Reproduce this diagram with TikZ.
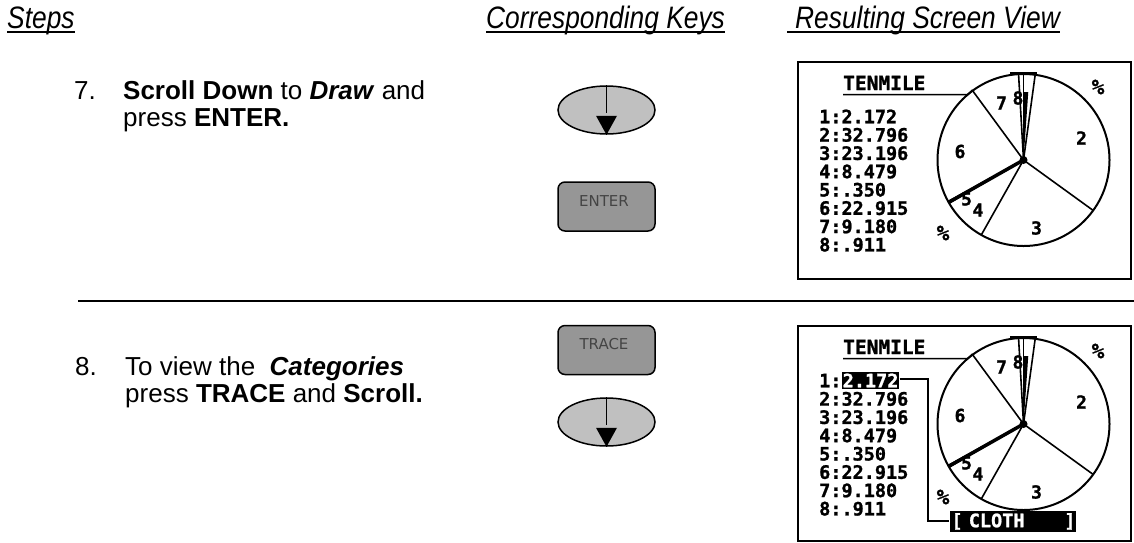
\documentclass[tikz,border=0pt]{standalone}
\usepackage{fontspec}
\setmainfont{Liberation Sans}
\newfontfamily\hdrfont[FakeStretch=0.85]{Liberation Sans}
\newfontfamily\keyfont{DejaVu Sans}
\newfontfamily\lcdfont[FakeBold=1.2]{DejaVu Sans Mono}
\usetikzlibrary{shapes.geometric}
\definecolor{keygray}{HTML}{969696}
\definecolor{ovalgray}{HTML}{C0C0C0}
\definecolor{keytext}{HTML}{444444}
\tikzset{
  hdr/.style={anchor=base west,inner sep=0pt,font=\hdrfont\itshape\fontsize{31}{31}\selectfont},
  steptext/.style={anchor=base west,inner sep=0pt,font=\fontsize{26}{26}\selectfont},
  ovalkey/.style={ellipse,draw=black,line width=1.5pt,fill=ovalgray,minimum width=97pt,minimum height=48pt,inner sep=0pt},
  rectkey/.style={draw=black,line width=1.5pt,fill=keygray,rounded corners=7pt,minimum width=97pt,minimum height=49pt,inner sep=0pt},
  keylabel/.style={inner sep=0pt,text=keytext,font=\keyfont\fontsize{15}{15}\selectfont},
  screen/.style={draw=black,line width=2pt},
  lcd/.style={anchor=base west,inner sep=0pt,font=\lcdfont\bfseries\fontsize{18.5}{18.5}\selectfont},
  lcdlbl/.style={inner sep=0pt,font=\lcdfont\bfseries\fontsize{18}{18}\selectfont},
  pie/.style={line width=2pt},
}
\begin{document}
\begin{tikzpicture}[x=1pt,y=-1pt]
\useasboundingbox (0,0) rectangle (1134,542);
% headers
\node[hdr] (h1) at (7,28) {Steps};
\node[hdr] (h2) at (486,28) {Corresponding Keys};
\node[hdr] (h3) at (795,28) {Resulting Screen View};
\foreach \h in {h1,h2,h3}{\draw[line width=1.5pt] ([yshift=-4pt]\h.base west) -- ([yshift=-4pt]\h.base east);}
\coordinate (ul3) at (787,32);
\draw[line width=1.5pt] (ul3) -- (h3.base west|-ul3);
% step 7
\node[steptext] (n7) at (74,99.5) {7.};
\node[steptext] (s7a) at (123,99.5) {\textbf{Scroll Down} to \textbf{\textit{Draw}} and};
\node[steptext] (s7b) at (123,126.5) {press \textbf{ENTER.}};
% separator
\coordinate (sepL) at (78,301);
\coordinate (sepR) at (1134,301);
\draw[line width=2pt] (sepL) -- (sepR);
% step 8
\node[steptext] (n8) at (75,375) {8.};
\node[steptext] (s8a) at (125,375) {To view the \ \textbf{\textit{Categories}}};
\node[steptext] (s8b) at (125,402) {press \textbf{TRACE} and \textbf{Scroll.}};
% keys
\node[ovalkey] (down1) at (606.5,110) {};
\draw[line width=1.5pt] (down1.north) -- ++(0,28);
\fill (down1.south) -- ++(-10.5,-19) -- ++(21,0) -- cycle;
\node[rectkey] (enter) at (606.5,206.5) {};
\node[keylabel] at (604,201) {ENTER};
\node[rectkey] (trace) at (606.5,350) {};
\node[keylabel] at (604,344.5) {TRACE};
\node[ovalkey] (down2) at (606.5,422) {};
\draw[line width=1.5pt] (down2.north) -- ++(0,28);
\fill (down2.south) -- ++(-10.5,-19) -- ++(21,0) -- cycle;
% screens (common content)
\foreach \dy/\nm in {0/A,264/B}{
\begin{scope}[yshift=-\dy pt]
  \coordinate (pc\nm) at (1023.5,160);
  \node[lcd,font=\lcdfont\bfseries\fontsize{19.5}{19.5}\selectfont] (title\nm) at (843,90) {TENMILE};
  \draw[line width=1.5pt] (843,94.5) -- (968,94.5) -- (972.5,90);
  \foreach \t [count=\i from 2] in {2:32.796,3:23.196,4:8.479,5:.350,6:22.915,7:9.180,8:.911}{
    \node[lcd] at (819,{123.3+18.3*(\i-1)}) {\t};
  }
  \draw[pie] (pc\nm) circle[radius=86];
  \foreach \a in {82.2,90,93.3,126.3,-35.9,-119.4,-149.9,-151.2}{
    \draw[line width=1.6pt] (pc\nm) -- ++(-\a:86) ;
  }
  \fill (pc\nm) -- ++(-86:68) -- ++(-5,0) -- cycle;
  \draw[line width=3.5pt] (pc\nm) -- ++(150.5:86);
  \fill (pc\nm) circle[radius=4];
  \draw[line width=3pt] (1010,73.5) -- (1037,73.5);
  \node[lcdlbl] at (1001.5,103) {7};
  \node[lcdlbl] at (1018,98) {8};
  \node[lcdlbl] at (1081.5,138) {2};
  \node[lcdlbl] at (960,151.5) {6};
  \node[lcdlbl] at (978,210) {4};
  \node[lcdlbl] at (966.5,199) {5};
  \node[lcdlbl] at (1036.5,228) {3};
  \node[lcdlbl,font=\lcdfont\bfseries\fontsize{21}{21}\selectfont] at (1098,87) {\%};
  \node[lcdlbl,font=\lcdfont\bfseries\fontsize{21}{21}\selectfont] at (943,233) {\%};
\end{scope}}
% first list line
\node[lcd] (oneA) at (819,123.3) {1:2.172};
\node[lcd] (oneB) at (819,387.3) {1:};
\node[lcd,fill=black,text=white,inner xsep=1pt,inner ysep=2pt] (hl) at (841.5,387.3) {2.172\hspace{3pt}};
\draw[screen] (798,62) rectangle (1131,279);
\draw[screen] (798,326) rectangle (1131,541);
% trace connector and category box on screen B
\node[fill=black,text=white,inner sep=0pt,minimum height=21pt,text width=126pt,align=left,anchor=north west,font=\lcdfont\bfseries\fontsize{18.5}{18.5}\selectfont] (cloth) at (949.3,510.7) {\hspace{2pt}[ CLOTH\hfill]\hspace{2pt}};
\coordinate (bend1) at (928.3,379);
\coordinate (bend2) at (928.3,521);
\draw[line width=2pt] (hl.east|-bend1) -- (bend1) -- (bend2) -- (cloth.west|-bend2);
\end{tikzpicture}
\end{document}
